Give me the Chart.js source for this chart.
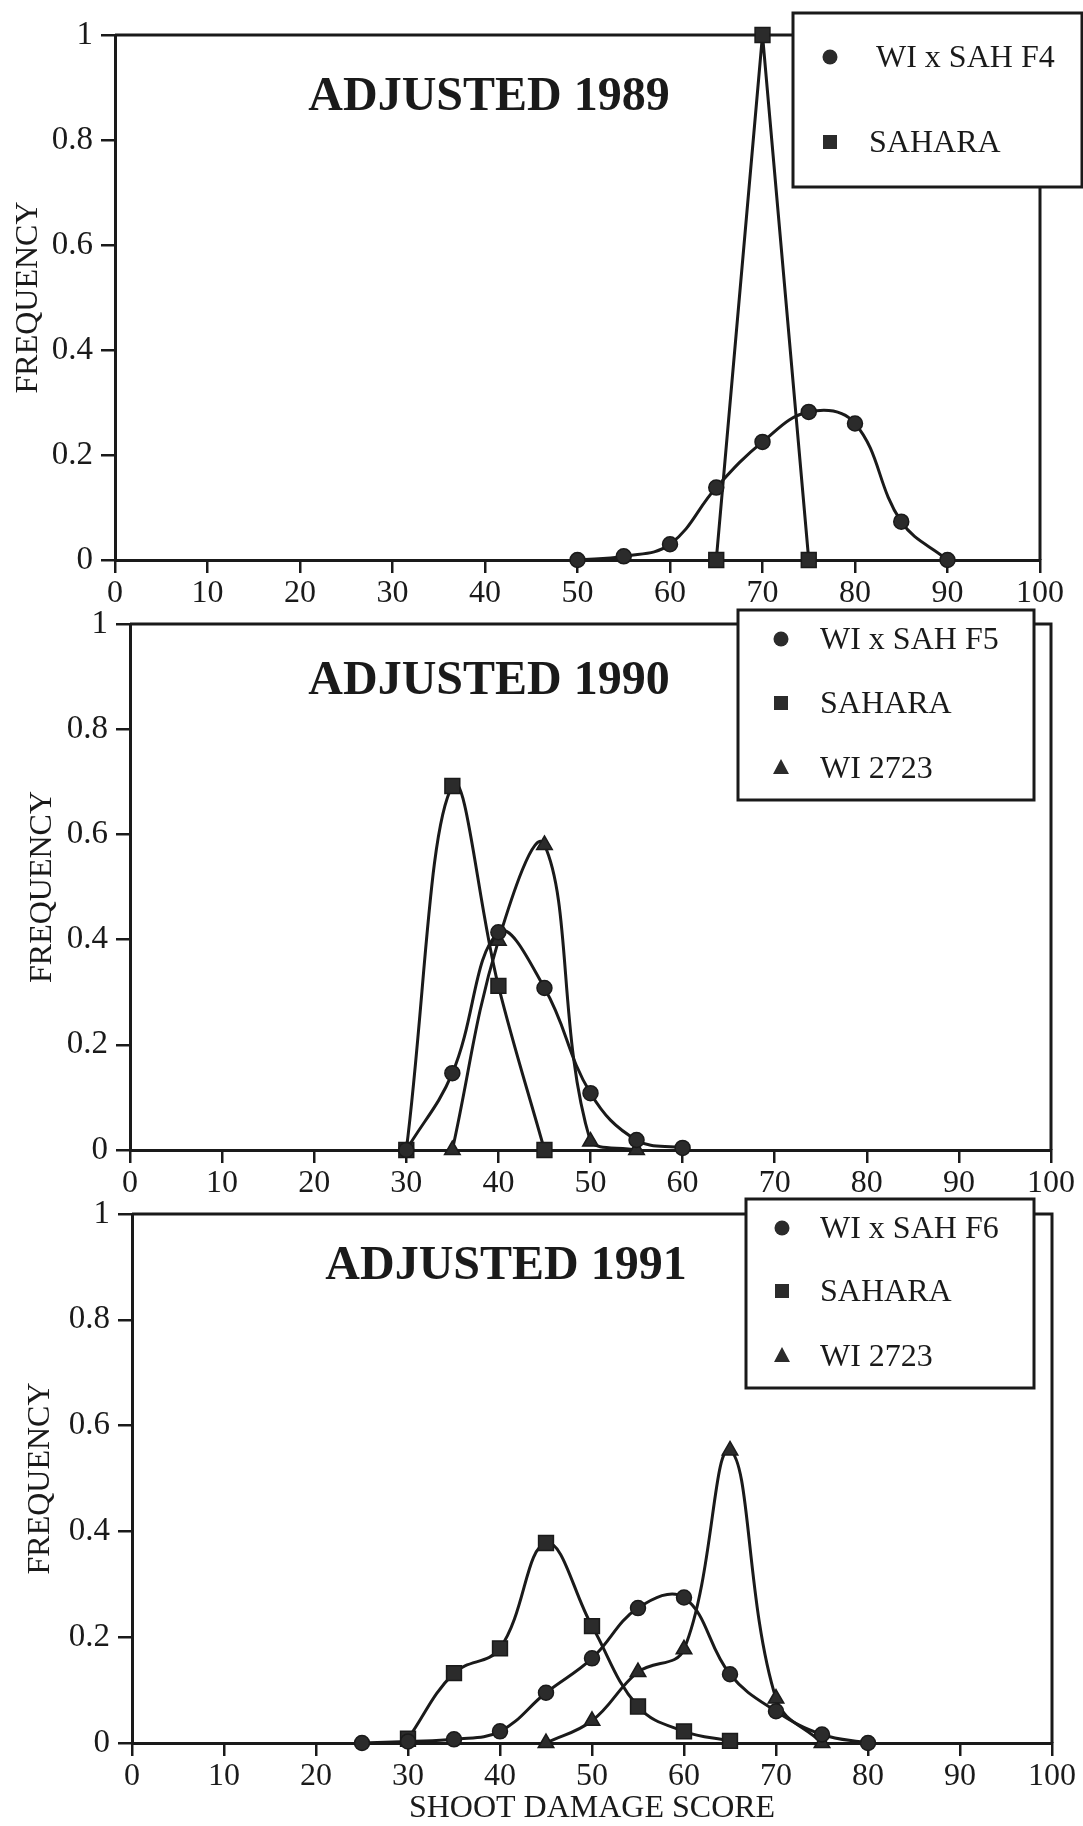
<!DOCTYPE html>
<html>
<head>
<meta charset="utf-8">
<script src="https://cdn.jsdelivr.net/npm/chart.js@4.4.1/dist/chart.umd.min.js"></script>
<style>
  html, body { margin: 0; padding: 0; background: #fff; }
  body { width: 1083px; height: 1826px; position: relative; overflow: hidden; }
  canvas { position: absolute; left: 0; }
</style>
</head>
<body>
<canvas id="c1989" width="1083" height="615" style="top:0px"></canvas>
<canvas id="c1990" width="1083" height="600" style="top:595px"></canvas>
<canvas id="c1991" width="1083" height="650" style="top:1180px"></canvas>
<script>
"use strict";

// ── text ──
const Y_TITLE = "FREQUENCY";
const X_TITLE = "SHOOT DAMAGE SCORE";
const TITLES  = ["ADJUSTED 1989", "ADJUSTED 1990", "ADJUSTED 1991"];
const LABELS_1989 = ["WI x SAH F4", "SAHARA"];
const LABELS_1990 = ["WI x SAH F5", "SAHARA", "WI 2723"];
const LABELS_1991 = ["WI x SAH F6", "SAHARA", "WI 2723"];

// ── ticks ──
const X_TICKS = [0, 10, 20, 30, 40, 50, 60, 70, 80, 90, 100];
const Y_TICKS = [0, 0.2, 0.4, 0.6, 0.8, 1];

// ── 1989 ──
const F4_X    = [50, 55, 60, 65, 70, 75, 80, 85, 90];
const F4_Y    = [0, 0.007, 0.03, 0.138, 0.225, 0.282, 0.26, 0.073, 0];
const SAH89_X = [65, 70, 75];
const SAH89_Y = [0, 1, 0];

// ── 1990 ──
const F5_X    = [30, 35, 40, 45, 50, 55, 60];
const F5_Y    = [0, 0.146, 0.414, 0.308, 0.108, 0.019, 0.004];
const SAH90_X = [30, 35, 40, 45];
const SAH90_Y = [0, 0.692, 0.312, 0];
const WI90_X  = [35, 40, 45, 50, 55];
const WI90_Y  = [0, 0.398, 0.58, 0.016, 0];

// ── 1991 ──
const F6_X    = [25, 30, 35, 40, 45, 50, 55, 60, 65, 70, 75, 80];
const F6_Y    = [0, 0.003, 0.007, 0.022, 0.095, 0.16, 0.255, 0.275, 0.13, 0.06, 0.016, 0];
const SAH91_X = [30, 35, 40, 45, 50, 55, 60, 65];
const SAH91_Y = [0.008, 0.132, 0.179, 0.378, 0.221, 0.069, 0.022, 0.004];
const WI91_X  = [45, 50, 55, 60, 65, 70, 75];
const WI91_Y  = [0, 0.042, 0.134, 0.177, 0.553, 0.084, 0];

const SERIF = "'Liberation Serif', 'DejaVu Serif', serif";
const INK   = "#1a1a1a";
const FILL  = "#2b2b2b";

Chart.defaults.font.family = SERIF;
Chart.defaults.color = INK;

const pts = (xs, ys) => xs.map((x, i) => ({ x, y: ys[i] }));

const MARKERS = {
  circle:   { pointStyle: "circle",   pointRadius: 7.5 },
  rect:     { pointStyle: "rect",     pointRadius: 10.5 },
  triangle: { pointStyle: "triangle", pointRadius: 9 }
};

function series(label, xs, ys, marker, tension) {
  return {
    label,
    data: pts(xs, ys),
    borderColor: INK,
    borderWidth: 3,
    backgroundColor: FILL,
    pointBackgroundColor: FILL,
    pointBorderColor: INK,
    pointBorderWidth: 1.5,
    tension,
    clip: false,
    ...MARKERS[marker]
  };
}

// ── frame, title and boxed legend ──
const panelDecor = {
  id: "panelDecor",
  beforeDatasetsDraw(chart) {
    const { ctx, chartArea: a } = chart;
    ctx.save();
    ctx.strokeStyle = INK;
    ctx.lineWidth = 3;
    ctx.beginPath();
    ctx.moveTo(a.left, a.top);
    ctx.lineTo(a.right, a.top);
    ctx.lineTo(a.right, a.bottom);
    ctx.stroke();
    ctx.restore();
  },
  afterDatasetsDraw(chart, args, opts) {
    const ctx = chart.ctx;
    ctx.save();
    ctx.fillStyle = INK;
    ctx.font = `bold 48px ${SERIF}`;
    ctx.textAlign = "center";
    ctx.textBaseline = "alphabetic";
    ctx.fillText(opts.title, opts.titleX, opts.titleY);

    const [x1, y1, x2, y2] = opts.box;
    ctx.fillStyle = "#fff";
    ctx.fillRect(x1, y1, x2 - x1, y2 - y1);
    ctx.strokeStyle = INK;
    ctx.lineWidth = 3;
    ctx.strokeRect(x1, y1, x2 - x1, y2 - y1);

    ctx.font = `32px ${SERIF}`;
    ctx.textAlign = "left";
    chart.data.datasets.forEach((ds, i) => {
      const mx = opts.markerX, my = opts.rowY[i];
      ctx.fillStyle = FILL;
      ctx.beginPath();
      if (ds.pointStyle === "circle") {
        ctx.arc(mx, my, 7.5, 0, Math.PI * 2);
      } else if (ds.pointStyle === "rect") {
        ctx.rect(mx - 7, my - 7, 14, 14);
      } else {
        ctx.moveTo(mx, my - 9);
        ctx.lineTo(mx + 8, my + 6);
        ctx.lineTo(mx - 8, my + 6);
        ctx.closePath();
      }
      ctx.fill();
      ctx.fillStyle = INK;
      ctx.fillText(ds.label, opts.textX[i], my + 10);
    });
    ctx.restore();
  }
};

function makePanel(id, g, title, datasets, showXTitle) {
  return new Chart(document.getElementById(id), {
    type: "line",
    data: { datasets },
    plugins: [panelDecor],
    options: {
      responsive: false,
      animation: false,
      layout: {
        padding: { left: 0, top: g.top, right: 1083 - g.R, bottom: g.H - g.bottom - g.hx }
      },
      plugins: {
        legend: { display: false },
        tooltip: { enabled: false },
        panelDecor: {
          title, titleX: g.titleX, titleY: g.titleY,
          box: g.box, markerX: g.markerX, rowY: g.rowY, textX: g.textX
        }
      },
      scales: {
        x: {
          type: "linear", min: 0, max: 100,
          afterBuildTicks: s => { s.ticks = X_TICKS.map(v => ({ value: v })); },
          ticks: { font: { size: 32 }, padding: 1, maxRotation: 0, autoSkip: false, color: INK,
                   callback: v => String(v) },
          grid: { drawOnChartArea: false, drawTicks: true, tickLength: 13, color: INK, lineWidth: 2.5 },
          border: { display: true, color: INK, width: 3 },
          title: {
            display: showXTitle, text: X_TITLE, color: INK,
            font: { size: 32 }, padding: { top: 0, bottom: 2 }
          },
          afterFit: s => { s.height = g.hx; }
        },
        y: {
          type: "linear", min: 0, max: 1,
          afterBuildTicks: s => { s.ticks = Y_TICKS.map(v => ({ value: v })); },
          ticks: { font: { size: 33 }, padding: 8, color: INK, callback: v => String(v) },
          grid: { drawOnChartArea: false, drawTicks: true, tickLength: 14, color: INK, lineWidth: 2.5 },
          border: { display: true, color: INK, width: 3 },
          title: {
            display: true, text: Y_TITLE, color: INK,
            font: { size: 32 }, padding: { top: g.yPad, bottom: 0 }
          },
          afterFit: s => { s.width = g.L; }
        }
      }
    }
  });
}

makePanel("c1989", {
  H: 615, L: 115, R: 1040, top: 35, bottom: 560, hx: 50, yPad: 9,
  titleX: 489, titleY: 110,
  box: [793, 13, 1082, 187], markerX: 830, rowY: [57, 142], textX: [876, 869]
}, TITLES[0], [
  series(LABELS_1989[0], F4_X, F4_Y, "circle", 0.4),
  series(LABELS_1989[1], SAH89_X, SAH89_Y, "rect", 0)
], false);

makePanel("c1990", {
  H: 600, L: 130, R: 1051, top: 29, bottom: 555, hx: 45, yPad: 23,
  titleX: 489, titleY: 99,
  box: [738, 15, 1034, 205], markerX: 781, rowY: [44, 108, 173], textX: [820, 820, 820]
}, TITLES[1], [
  series(LABELS_1990[0], F5_X, F5_Y, "circle", 0.4),
  series(LABELS_1990[1], SAH90_X, SAH90_Y, "rect", 0.4),
  series(LABELS_1990[2], WI90_X, WI90_Y, "triangle", 0.4)
], false);

makePanel("c1991", {
  H: 650, L: 132, R: 1052, top: 34, bottom: 563, hx: 87, yPad: 21,
  titleX: 506, titleY: 99,
  box: [746, 19, 1034, 208], markerX: 782, rowY: [48, 111, 176], textX: [820, 820, 820]
}, TITLES[2], [
  series(LABELS_1991[0], F6_X, F6_Y, "circle", 0.4),
  series(LABELS_1991[1], SAH91_X, SAH91_Y, "rect", 0.4),
  series(LABELS_1991[2], WI91_X, WI91_Y, "triangle", 0.4)
], true);
</script>
</body>
</html>
